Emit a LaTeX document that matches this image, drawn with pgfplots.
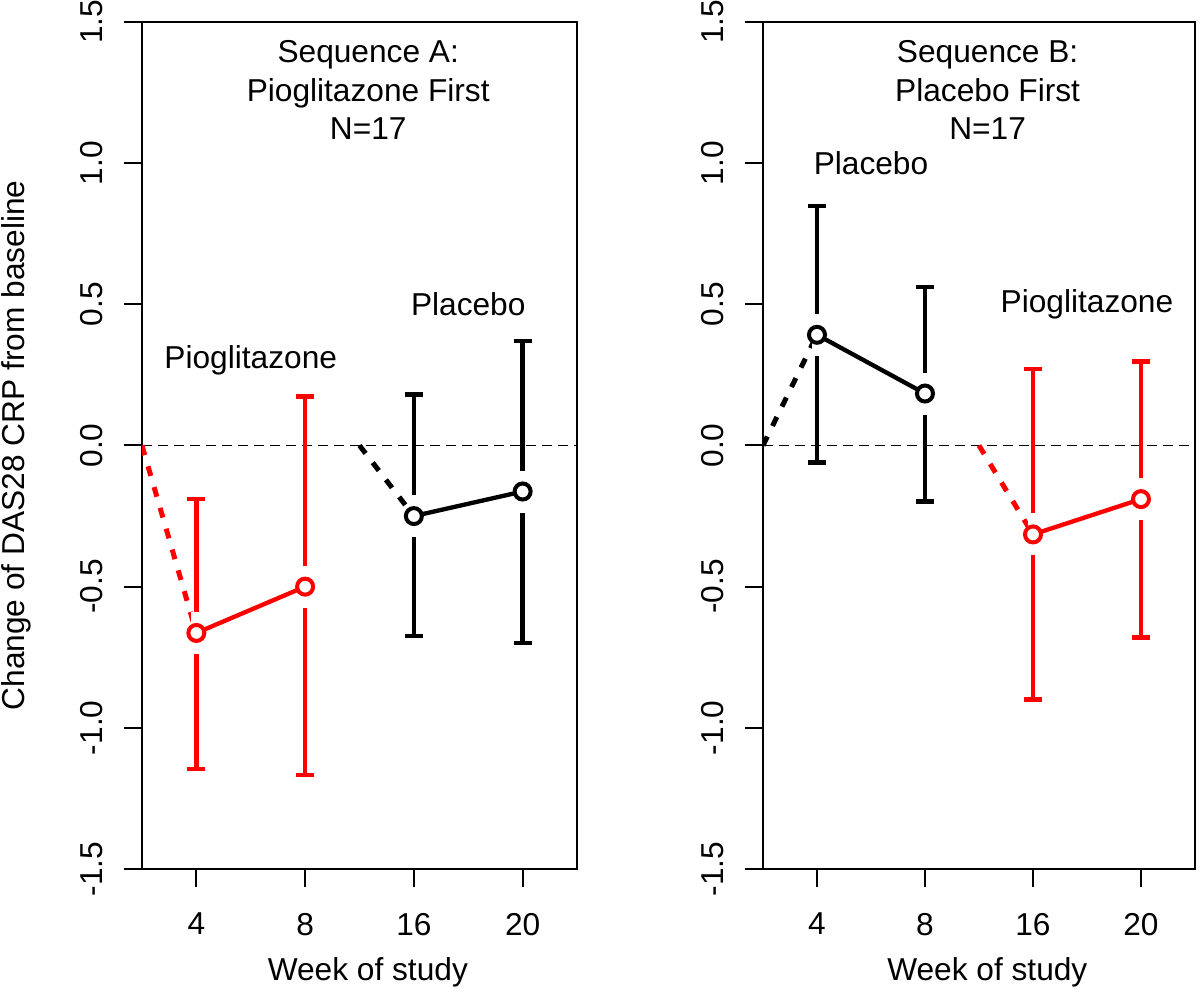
\documentclass[border=0pt]{standalone}
\usepackage{fontspec}
\setmainfont{Liberation Sans}
\usepackage{pgfplots}
\usepackage{pgfplotstable}
\pgfplotsset{compat=1.18}

% week position, mean change, upper and lower half-widths of the interval
\pgfplotstableread{
x y ep em
1 -0.664 0.474 0.481
2 -0.500 0.673 0.666
}\Apio
\pgfplotstableread{
x y ep em
3 -0.250 0.431 0.425
4 -0.163 0.533 0.537
}\Apla
\pgfplotstableread{
x y ep em
1 0.392 0.456 0.452
2 0.184 0.378 0.382
}\Bpla
\pgfplotstableread{
x y ep em
3 -0.315 0.587 0.585
4 -0.190 0.487 0.490
}\Bpio

\definecolor{rred}{RGB}{255,0,0}

\pgfplotsset{
  panel/.style={
    scale only axis, height=254.1pt,
    xmin=0.5, xmax=4.5, ymin=-1.5, ymax=1.5,
    xtick={1,2,3,4}, xticklabels={4,8,16,20},
    ytick={-1.5,-1.0,-0.5,0,0.5,1.0,1.5},
    tick align=outside, major tick length=5.5pt,
    xtick pos=bottom, ytick pos=left,
    axis line style={line width=0.6pt},
    every tick/.style={black, line width=0.6pt},
    yticklabel style={rotate=90, anchor=south, inner sep=0pt},
    xticklabel style={anchor=north, inner sep=0pt},
    yticklabel shift=6.0pt, xticklabel shift=7.5pt,
    /pgf/number format/fixed, /pgf/number format/fixed zerofill,
    /pgf/number format/precision=1, /pgf/number format/assume math mode=true,
  },
  ebar/.style={only marks, mark=none, #1,
    error bars/.cd, y dir=both, y explicit,
    error bar style={line width=1.3pt},
    error mark=-,
    error mark options={rotate=90, #1, line width=1.3pt, mark size=2.7pt}},
  gapmask/.style={only marks, mark=|, mark size=6.3pt,
    mark options={draw=white, line width=3pt}},
  pts/.style={only marks, mark=*, mark size=2.4pt,
    mark options={fill=white, draw=#1, line width=1.2pt}},
  conn/.style={#1, line width=1.3pt, mark=none},
  lead/.style={#1, line width=1.5pt, dash pattern=on 3pt off 3.5pt, mark=none},
  zero/.style={black, line width=0.5pt, dash pattern=on 3pt off 1.8pt, mark=none},
}

\begin{document}
\begin{tikzpicture}[font=\fontsize{9.5}{11.55}\selectfont]
\useasboundingbox (0,0) rectangle (360pt,296.7pt);

\begin{axis}[panel, width=130.5pt, name=A, at={(42.6pt,36pt)}, anchor=south west]
\addplot[zero] coordinates {(0.5,0) (4.5,0)};
\addplot[ebar=rred] table[x=x, y=y, y error plus=ep, y error minus=em] {\Apio};
\addplot[ebar=black] table[x=x, y=y, y error plus=ep, y error minus=em] {\Apla};
\addplot[gapmask] table[x=x, y=y] {\Apio};
\addplot[gapmask] table[x=x, y=y] {\Apla};
\addplot[lead=rred] coordinates {(0.5,0) (1,-0.664)};
\addplot[lead=black] coordinates {(2.5,0) (3,-0.250)};
\addplot[conn=rred] table[x=x, y=y] {\Apio};
\addplot[conn=black] table[x=x, y=y] {\Apla};
\addplot[pts=rred] table[x=x, y=y] {\Apio};
\addplot[pts=black] table[x=x, y=y] {\Apla};
\node[align=center] at (axis cs:2.58,1.258) {Sequence A:\\Pioglitazone First\\N=17};
\node at (axis cs:1.5,0.30) {Pioglitazone};
\node at (axis cs:3.5,0.50) {Placebo};
\end{axis}

\begin{axis}[panel, width=129.6pt, name=B, at={(228.9pt,36pt)}, anchor=south west]
\addplot[zero] coordinates {(0.5,0) (4.5,0)};
\addplot[ebar=black] table[x=x, y=y, y error plus=ep, y error minus=em] {\Bpla};
\addplot[ebar=rred] table[x=x, y=y, y error plus=ep, y error minus=em] {\Bpio};
\addplot[gapmask] table[x=x, y=y] {\Bpla};
\addplot[gapmask] table[x=x, y=y] {\Bpio};
\addplot[lead=black] coordinates {(0.5,0) (1,0.392)};
\addplot[lead=rred] coordinates {(2.5,0) (3,-0.315)};
\addplot[conn=black] table[x=x, y=y] {\Bpla};
\addplot[conn=rred] table[x=x, y=y] {\Bpio};
\addplot[pts=black] table[x=x, y=y] {\Bpla};
\addplot[pts=rred] table[x=x, y=y] {\Bpio};
\node[align=center] at (axis cs:2.58,1.258) {Sequence B:\\Placebo First\\N=17};
\node at (axis cs:1.5,1.0) {Placebo};
\node at (axis cs:3.5,0.50) {Pioglitazone};
\end{axis}

\node[rotate=90] at ([xshift=-37.8pt]A.west) {Change of DAS28 CRP from baseline};
\node at ([xshift=2.5pt, yshift=-30.9pt]A.south) {Week of study};
\node at ([xshift=2.5pt, yshift=-30.9pt]B.south) {Week of study};
\end{tikzpicture}
\end{document}
